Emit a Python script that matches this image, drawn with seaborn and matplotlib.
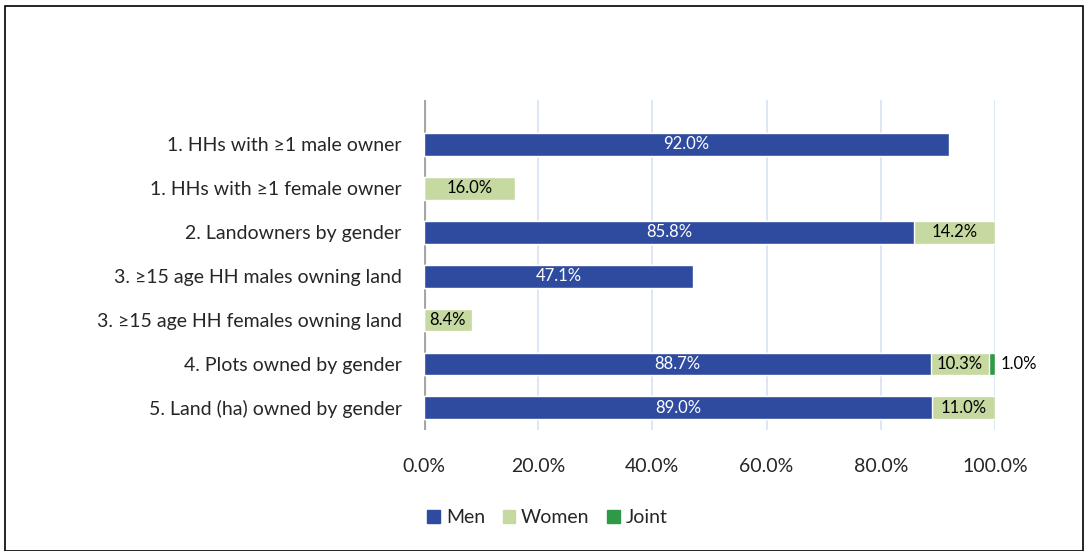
import numpy as np
import pandas as pd
import matplotlib.pyplot as plt
import matplotlib.patches as mpatches
import seaborn as sns

categories = [
    "1. HHs with \u22651 male owner",
    "1. HHs with \u22651 female owner",
    "2. Landowners by gender",
    "3. \u226515 age HH males owning land",
    "3. \u226515 age HH females owning land",
    "4. Plots owned by gender",
    "5. Land (ha) owned by gender",
]
men = [92.0, 0.0, 85.8, 47.1, 0.0, 88.7, 89.0]
women = [0.0, 16.0, 14.2, 0.0, 8.4, 10.3, 11.0]
joint = [0.0, 0.0, 0.0, 0.0, 0.0, 1.0, 0.0]
x_ticks = [0, 20, 40, 60, 80, 100]

c_men = "#2F4B9F"
c_women = "#C5D9A0"
c_joint = "#2E9A47"

sns.set_style("white")
plt.rcParams["font.family"] = ["Lato", "DejaVu Sans"]

df = pd.DataFrame({"cat": categories, "men": men, "women": women, "joint": joint})
df["mw"] = df["men"] + df["women"]
df["all"] = df["mw"] + df["joint"]

fig = plt.figure(figsize=(10.84, 5.51), dpi=100)
ax = fig.add_axes([0.391, 0.22, 0.527, 0.599])

for ix in x_ticks[1:]:
    ax.axvline(ix, color="#D6E2F3", lw=1.2, zorder=0)

# stacked bars drawn back to front
sns.barplot(data=df, x="all", y="cat", color=c_joint, width=0.52, ax=ax,
            saturation=1, zorder=2)
sns.barplot(data=df, x="mw", y="cat", color=c_women, width=0.52, ax=ax,
            saturation=1, zorder=3)
sns.barplot(data=df, x="men", y="cat", color=c_men, width=0.52, ax=ax,
            saturation=1, zorder=4)

for i, r in df.iterrows():
    if r["men"] > 0:
        ax.text(r["men"] / 2, i, f"{r['men']:.1f}%", color="white",
                ha="center", va="center", fontsize=12, zorder=5)
    if r["women"] > 0:
        ax.text(r["men"] + r["women"] / 2, i, f"{r['women']:.1f}%",
                color="black", ha="center", va="center", fontsize=12, zorder=5)
    if r["joint"] > 0:
        ax.text(r["all"] + 1.0, i, f"{r['joint']:.1f}%",
                color="black", ha="left", va="center", fontsize=12, zorder=5)

ax.axvline(0, color="#A6A6A6", lw=3, zorder=1)
ax.set_xlim(0, 100)
ax.set_ylim(6.5, -1.02)
ax.set_xticks(x_ticks)
ax.set_xticklabels([f"{v:.1f}%" for v in x_ticks], fontsize=14)
ax.tick_params(axis="x", pad=20, length=0)
ax.tick_params(axis="y", labelsize=14, pad=16, length=0)
ax.set_xlabel("")
ax.set_ylabel("")
for s in ax.spines.values():
    s.set_visible(False)

handles = [mpatches.Patch(color=c_men, label="Men"),
           mpatches.Patch(color=c_women, label="Women"),
           mpatches.Patch(color=c_joint, label="Joint")]
fig.legend(handles=handles, loc="center", bbox_to_anchor=(0.505, 0.06),
           ncol=3, frameon=False, fontsize=14, handlelength=0.65,
           handleheight=0.65, handletextpad=0.3, columnspacing=0.9)

fig.patches.append(mpatches.Rectangle((0.005, 0.0), 0.994, 0.99,
                                      transform=fig.transFigure, fill=False,
                                      edgecolor="black", lw=1.2))

fig.savefig("out.png", dpi=100)
